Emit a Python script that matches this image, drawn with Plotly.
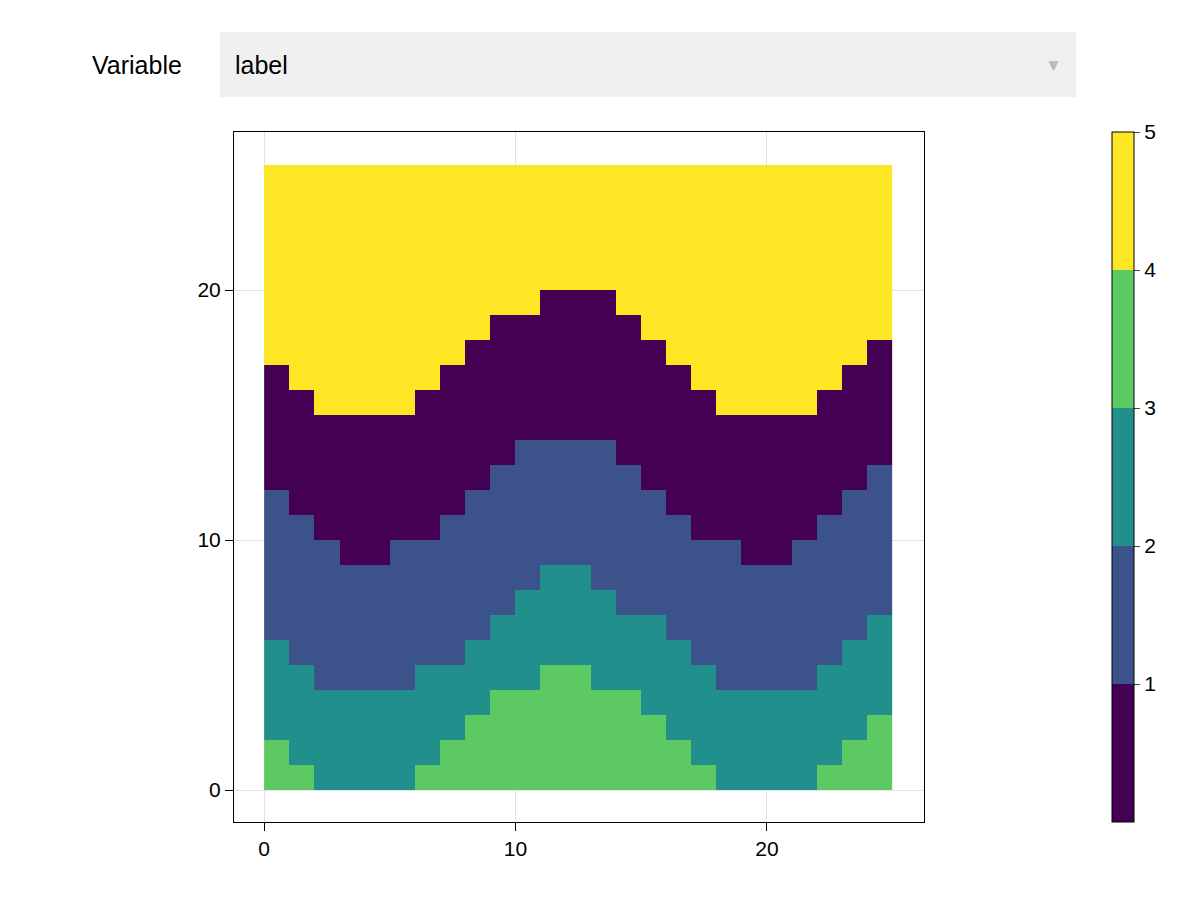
import numpy as np
import plotly.graph_objects as go

# upper boundary (y) of each class per column 0..24
green_top  = [2,1,0,0,0,0,1,2,3,4,4,5,5,4,4,3,2,1,0,0,0,0,1,2,3]
teal_top   = [6,5,4,4,4,4,5,5,6,7,8,9,9,8,7,7,6,5,4,4,4,4,5,6,7]
blue_top   = [12,11,10,9,9,10,10,11,12,13,14,14,14,14,13,12,11,10,10,9,9,10,11,12,13]
purple_top = [17,16,15,15,15,15,16,17,18,19,19,20,20,20,19,18,17,16,15,15,15,15,16,17,18]
# label values of classes
val_green, val_teal, val_blue, val_purple, val_yellow = 3.5, 2.5, 1.5, 0.5, 4.5

ncol, nrow = 25, 25
z = np.zeros((nrow, ncol))
for c in range(ncol):
    for r in range(nrow):
        yc = r + 0.5
        if yc < green_top[c]: v = val_green
        elif yc < teal_top[c]: v = val_teal
        elif yc < blue_top[c]: v = val_blue
        elif yc < purple_top[c]: v = val_purple
        else: v = val_yellow
        z[r, c] = v

cols = ["#440154", "#3b528b", "#21908d", "#5dc963", "#fde725"]
cs = []
for i, col in enumerate(cols):
    cs += [[i/5, col], [(i+1)/5, col]]

W, H, OFF = 1200, 900, 8
def px(x): return (x - OFF) / W
def py(y): return 1 - (y - OFF) / H

fig = go.Figure(go.Heatmap(
    z=z, x=np.arange(26), y=np.arange(26), colorscale=cs, zmin=0, zmax=5,
    colorbar=dict(x=px(1112), xanchor="left", thickness=22, len=690, lenmode="pixels",
                  ypad=0, xpad=0, y=py(132), yanchor="top", tickvals=[1,2,3,4,5], ticks="outside",
                  ticklen=6, outlinecolor="black", outlinewidth=1,
                  tickfont=dict(size=21, color="black")),
))
ax = dict(showgrid=True, gridcolor="#e2e2e2", zeroline=False, showline=True, linecolor="black",
          mirror=True, ticks="outside", ticklen=8, tickcolor="black",
          tickfont=dict(size=21, color="black"), dtick=10)
fig.update_layout(
    width=W, height=H, margin=dict(l=0, r=0, t=0, b=0),
    paper_bgcolor="white", plot_bgcolor="white",
    font=dict(family="Liberation Sans, Arial", color="black"),
    xaxis=dict(ax, range=[-1.2, 26.25], domain=[px(234), px(924)]),
    yaxis=dict(ax, range=[-1.28, 26.32], domain=[py(822), py(132)]),
    shapes=[dict(type="rect", xref="paper", yref="paper", x0=px(220), x1=px(1076),
                 y0=py(97), y1=py(32), fillcolor="#f0f0f0", line=dict(width=0))],
    annotations=[
        dict(text="Variable", xref="paper", yref="paper", x=px(184), y=py(65),
             xanchor="right", yanchor="middle", showarrow=False, font=dict(size=25)),
        dict(text="label", xref="paper", yref="paper", x=px(233), y=py(65),
             xanchor="left", yanchor="middle", showarrow=False, font=dict(size=25)),
        dict(text="▼", xref="paper", yref="paper", x=px(1064), y=py(66),
             xanchor="right", yanchor="middle", showarrow=False,
             font=dict(size=17, color="#bbbbbb")),
    ],
)
fig.write_html("out.html")
